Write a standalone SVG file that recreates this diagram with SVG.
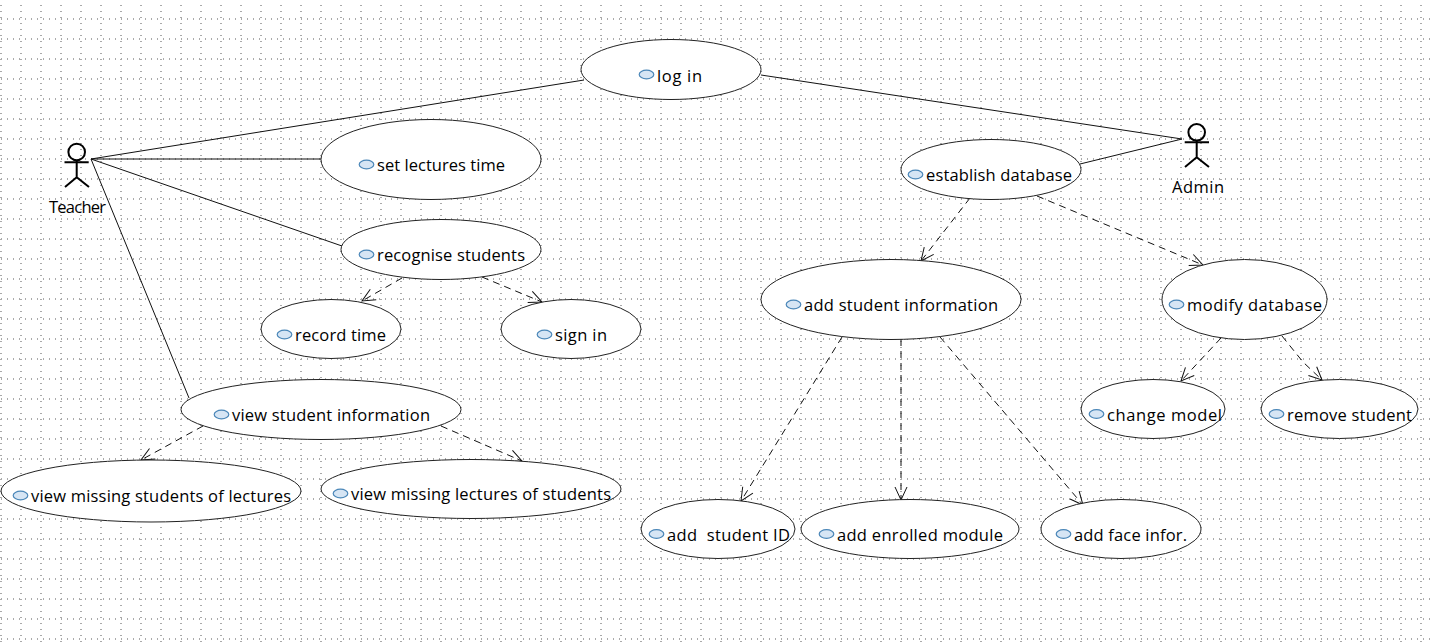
<svg xmlns="http://www.w3.org/2000/svg" width="1434" height="644" viewBox="0 0 1434 644">
<style>
.uc{fill:#fff;stroke:#222;stroke-width:1}
.ic{fill:#d6e5f4;stroke:#4a86b8;stroke-width:1.2}
text{font-family:"Open Sans","Noto Sans","Liberation Sans",sans-serif;font-size:16.5px;fill:#000;white-space:pre}
.a{fill:none;stroke:#000;stroke-width:2}
.s{stroke:#111;stroke-width:1;fill:none}
.d{stroke:#111;stroke-width:1;fill:none;stroke-dasharray:7 5;marker-end:url(#arr)}
</style>
<defs>
<pattern id="gr" width="6" height="20" patternUnits="userSpaceOnUse"><rect x="1" y="18" width="1" height="2" fill="#aaa"/></pattern>
<pattern id="gc" width="20" height="6" patternUnits="userSpaceOnUse"><rect x="0" y="5" width="2" height="1" fill="#aaa"/></pattern>
<marker id="arr" markerUnits="userSpaceOnUse" markerWidth="20" markerHeight="20" refX="16" refY="10" orient="auto"><path d="M3,4 L16,10 L3,16" fill="none" stroke="#111" stroke-width="1"/></marker>
</defs>
<rect width="1434" height="644" fill="#fff"/>
<rect width="1434" height="644" fill="url(#gr)"/>
<rect width="1434" height="644" fill="url(#gc)"/>
<g id="connectors">
<path class="s" d="M91,159L584,80"/>
<path class="s" d="M91,159H321"/>
<path class="s" d="M91,159L342,246"/>
<path class="s" d="M91,159L189,398"/>
<path class="s" d="M761,75L1182,139"/>
<path class="s" d="M1080,164L1182,139"/>
<path class="d" d="M402,278L362,301"/>
<path class="d" d="M482,277L542,302"/>
<path class="d" d="M203,426L141,460"/>
<path class="d" d="M441,426L522,461"/>
<path class="d" d="M970,198L921,261"/>
<path class="d" d="M1037,196L1203,265"/>
<path class="d" d="M842,337L741,501"/>
<path class="d" d="M901,339V500"/>
<path class="d" d="M940,337L1083,505"/>
<path class="d" d="M1221,338L1181,381"/>
<path class="d" d="M1282,336L1303,362L1322,380"/>
</g>
<g id="teacher"><circle class="a" cx="76.7" cy="152" r="8.3"/><path class="a" d="M64.5,162.3H88.7M76.7,160V177.3M65,187L76.7,177.3L89,187"/><text x="49" y="213" textLength="57" font-size="16">Teacher</text></g>
<g id="admin"><circle class="a" cx="1196.7" cy="132.3" r="8.3"/><path class="a" d="M1184.7,142.3H1209M1196.7,140.6V157.3M1185,167L1196.7,157.3L1209,167"/><text x="1172" y="193" textLength="52">Admin</text></g>
<g id="log-in"><ellipse class="uc" cx="671" cy="69.5" rx="90" ry="30"/><ellipse class="ic" cx="646.5" cy="74.5" rx="7.3" ry="4.3"/><text x="657" y="82" textLength="45">log in</text></g>
<g id="set-lectures-time"><ellipse class="uc" cx="431" cy="159.5" rx="110" ry="40"/><ellipse class="ic" cx="366.5" cy="164.5" rx="7.3" ry="4.3"/><text x="377" y="171" textLength="128">set lectures time</text></g>
<g id="recognise-students"><ellipse class="uc" cx="441" cy="249.5" rx="100" ry="30"/><ellipse class="ic" cx="366.5" cy="254.5" rx="7.3" ry="4.3"/><text x="377" y="261" textLength="148">recognise students</text></g>
<g id="record-time"><ellipse class="uc" cx="331" cy="329" rx="70" ry="29.5"/><ellipse class="ic" cx="284.5" cy="334.5" rx="7.3" ry="4.3"/><text x="295" y="341" textLength="91">record time</text></g>
<g id="sign-in"><ellipse class="uc" cx="571" cy="329" rx="70" ry="29.5"/><ellipse class="ic" cx="544.5" cy="334.5" rx="7.3" ry="4.3"/><text x="555" y="341" textLength="52">sign in</text></g>
<g id="view-student-information"><ellipse class="uc" cx="321" cy="409.5" rx="140" ry="30"/><ellipse class="ic" cx="221.5" cy="414.5" rx="7.3" ry="4.3"/><text x="232" y="421" textLength="198">view student information</text></g>
<g id="view-missing-students"><ellipse class="uc" cx="151" cy="491" rx="150" ry="31"/><ellipse class="ic" cx="20.5" cy="495.5" rx="7.3" ry="4.3"/><text x="31" y="502" textLength="260">view missing students of lectures</text></g>
<g id="view-missing-lectures"><ellipse class="uc" cx="471" cy="489" rx="150" ry="29.5"/><ellipse class="ic" cx="340.5" cy="493.5" rx="7.3" ry="4.3"/><text x="351" y="500" textLength="260">view missing lectures of students</text></g>
<g id="establish-database"><ellipse class="uc" cx="991" cy="169.5" rx="90" ry="30"/><ellipse class="ic" cx="915.5" cy="174.5" rx="7.3" ry="4.3"/><text x="926" y="181" textLength="146">establish database</text></g>
<g id="add-student-information"><ellipse class="uc" cx="891" cy="299.5" rx="130" ry="40"/><ellipse class="ic" cx="793.5" cy="304.5" rx="7.3" ry="4.3"/><text x="804" y="311" textLength="194">add student information</text></g>
<g id="modify-database"><ellipse class="uc" cx="1244.5" cy="299.5" rx="82.5" ry="40"/><ellipse class="ic" cx="1176.5" cy="304.5" rx="7.3" ry="4.3"/><text x="1187" y="311" textLength="135">modify database</text></g>
<g id="change-model"><ellipse class="uc" cx="1153" cy="409" rx="72" ry="29.5"/><ellipse class="ic" cx="1096.5" cy="414" rx="7.3" ry="4.3"/><text x="1107" y="421" textLength="115">change model</text></g>
<g id="remove-student"><ellipse class="uc" cx="1339.5" cy="409" rx="78.5" ry="29.5"/><ellipse class="ic" cx="1276.5" cy="414" rx="7.3" ry="4.3"/><text x="1287" y="421" textLength="125">remove student</text></g>
<g id="add-student-id"><ellipse class="uc" cx="718" cy="529" rx="77" ry="29.5"/><ellipse class="ic" cx="656.5" cy="534" rx="7.3" ry="4.3"/><text x="667" y="541" textLength="123">add  student ID</text></g>
<g id="add-enrolled-module"><ellipse class="uc" cx="910" cy="529" rx="109" ry="29.5"/><ellipse class="ic" cx="826.5" cy="534" rx="7.3" ry="4.3"/><text x="837" y="541" textLength="166">add enrolled module</text></g>
<g id="add-face-infor"><ellipse class="uc" cx="1121" cy="529" rx="80" ry="29.5"/><ellipse class="ic" cx="1063.5" cy="534" rx="7.3" ry="4.3"/><text x="1074" y="541" textLength="113">add face infor.</text></g>
</svg>
